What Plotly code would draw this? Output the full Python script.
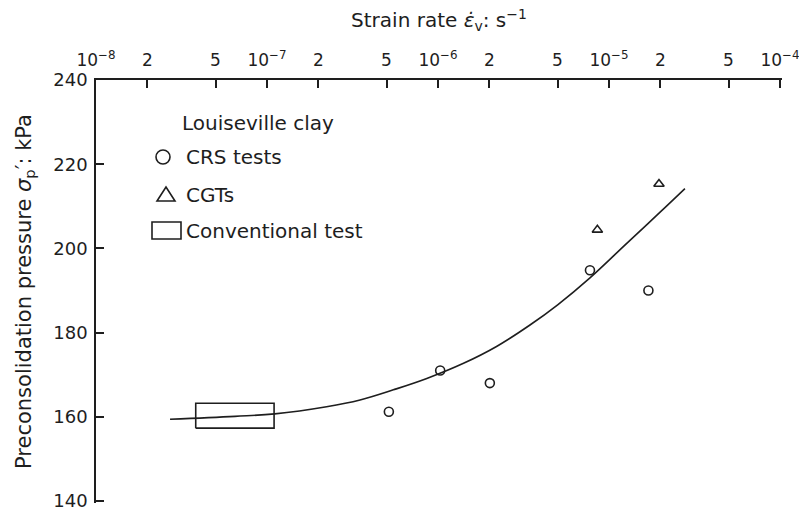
import plotly.graph_objects as go

# Constant-rate-of-strain (CRS) tests
crs_rate = [5.16e-7, 1.03e-6, 2.01e-6, 7.74e-6, 1.70e-5]
crs_pressure = [161.2, 171.0, 168.0, 194.8, 190.0]

# Controlled-gradient tests (CGTs)
cgt_rate = [8.55e-6, 1.96e-5]
cgt_pressure = [204.4, 215.3]

# Conventional oedometer test: range of rate and pressure
conv_rate = [3.83e-8, 1.10e-7]
conv_pressure = [157.3, 163.2]

# Trend curve through the results
curve_rate = [2.71e-8, 6.5e-8, 1.11e-7, 2.23e-7, 3.5e-7, 5.48e-7, 8.6e-7, 1.41e-6,
              2.2e-6, 3.45e-6, 5.01e-6, 7.74e-6, 1.27e-5, 1.99e-5, 2.78e-5]
curve_pressure = [159.4, 160.1, 160.7, 162.4, 164.0, 166.4, 169.1, 172.7,
                  176.7, 181.8, 186.6, 193.0, 201.2, 208.6, 214.2]

# Axis ticks
x_tickvals = [1e-8, 2e-8, 5e-8, 1e-7, 2e-7, 5e-7, 1e-6, 2e-6, 5e-6, 1e-5, 2e-5, 5e-5, 1e-4]
x_ticktext = ["10<sup>−8</sup>", "2", "5", "10<sup>−7</sup>", "2", "5", "10<sup>−6</sup>",
              "2", "5", "10<sup>−5</sup>", "2", "5", "10<sup>−4</sup>"]
y_tickvals = [140, 160, 180, 200, 220, 240]

INK = "#1e1e1e"
FONT = "DejaVu Sans"

fig = go.Figure()

fig.add_trace(go.Scatter(
    x=curve_rate, y=curve_pressure, mode="lines",
    line=dict(color=INK, width=1.6, shape="spline", smoothing=1.1),
    showlegend=False, hoverinfo="skip"))

# Conventional test box
fig.add_trace(go.Scatter(
    x=[conv_rate[0], conv_rate[1], conv_rate[1], conv_rate[0], conv_rate[0]],
    y=[conv_pressure[0], conv_pressure[0], conv_pressure[1], conv_pressure[1], conv_pressure[0]],
    mode="lines", line=dict(color=INK, width=1.6), showlegend=False))

fig.add_trace(go.Scatter(
    x=crs_rate, y=crs_pressure, mode="markers",
    marker=dict(symbol="circle-open", size=9, color=INK, line=dict(width=1.6)),
    showlegend=False))

fig.add_trace(go.Scatter(
    x=cgt_rate, y=cgt_pressure, mode="markers",
    marker=dict(symbol="triangle-up-open", size=9, color=INK, line=dict(width=1.6)),
    showlegend=False))

# Plot-area geometry in pixels, used to place the key
L, R, T, B = 96, 782, 80, 503


def px(xp):
    return (xp - L) / (R - L)


def py(yp):
    return (B - yp) / (B - T)


shapes = [
    dict(type="circle", xref="paper", yref="paper",
         x0=px(156), x1=px(170), y0=py(164), y1=py(150),
         line=dict(color=INK, width=1.6)),
    dict(type="path", xref="paper", yref="paper",
         path=f"M {px(157)} {py(201)} L {px(175)} {py(201)} L {px(166)} {py(187)} Z",
         line=dict(color=INK, width=1.6)),
    dict(type="rect", xref="paper", yref="paper",
         x0=px(152), x1=px(181), y0=py(239), y1=py(222),
         line=dict(color=INK, width=1.6)),
]

key_font = dict(family=FONT, size=20, color=INK)
annotations = [
    dict(text="Louiseville clay", x=px(180), y=py(123)),
    dict(text="CRS tests", x=px(184), y=py(157)),
    dict(text="CGTs", x=px(184), y=py(195)),
    dict(text="Conventional test", x=px(184), y=py(231)),
]
for a in annotations:
    a.update(xref="paper", yref="paper", xanchor="left", yanchor="middle",
             showarrow=False, font=key_font)

fig.update_layout(
    width=799, height=511,
    margin=dict(l=L, r=799 - R, t=T, b=511 - B, autoexpand=False),
    paper_bgcolor="white", plot_bgcolor="white",
    font=dict(family=FONT, color=INK),
    shapes=shapes, annotations=annotations,
    xaxis=dict(
        # range runs slightly past 1e-4 so the end tick is kept
        type="log", range=[-8.0, -3.9883], side="top", automargin=False,
        tickvals=x_tickvals, ticktext=x_ticktext,
        ticks="inside", ticklen=8, tickwidth=1.6, tickcolor=INK,
        showline=True, linecolor=INK, linewidth=1.6,
        showgrid=False, zeroline=False,
        tickfont=dict(family=FONT, size=17, color=INK),
        ticklabelstandoff=5, ticklabeloverflow="allow",
        title=dict(text="Strain rate <i>ε̇</i><sub>v</sub>: s<sup>−1</sup>",
                   font=dict(family=FONT, size=20, color=INK), standoff=15),
    ),
    yaxis=dict(
        # range runs slightly below 140 so the end tick is kept
        range=[139.52, 240.0], tickvals=y_tickvals, automargin=False,
        ticks="inside", ticklen=8, tickwidth=1.6, tickcolor=INK,
        showline=True, linecolor=INK, linewidth=1.6,
        showgrid=False, zeroline=False,
        tickfont=dict(family=FONT, size=18, color=INK),
        ticklabelstandoff=3, ticklabeloverflow="allow",
        title=dict(text="Preconsolidation pressure <i>σ</i><sub>p</sub>′: kPa",
                   font=dict(family=FONT, size=21, color=INK), standoff=16),
    ),
)

fig.write_html("out.html")
